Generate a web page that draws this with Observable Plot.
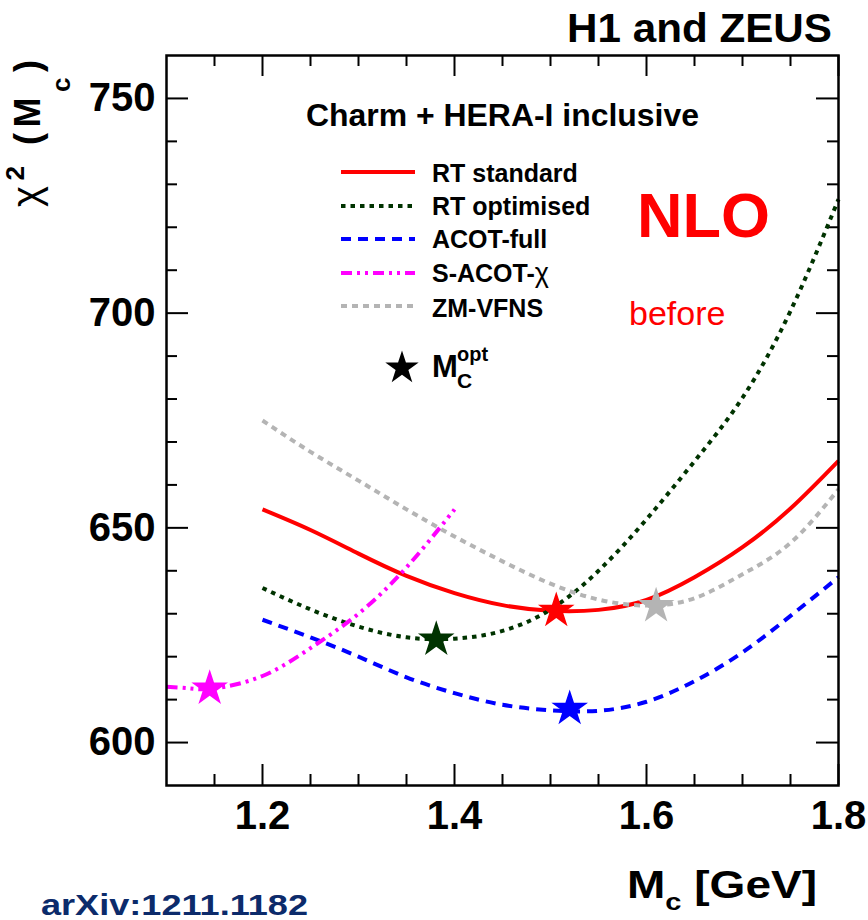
<!DOCTYPE html>
<html>
<head>
<meta charset="utf-8">
<script src="https://cdn.jsdelivr.net/npm/d3@7"></script>
<script src="https://cdn.jsdelivr.net/npm/@observablehq/plot@0.6"></script>
<style>
html, body { margin: 0; padding: 0; background: #fff; }
#chart { width: 868px; height: 920px; overflow: hidden; }
</style>
</head>
<body>
<div id="chart"></div>
<script>
// ---------------- data ----------------
const seriesNames = ["RT standard", "RT optimised", "ACOT-full", "S-ACOT-χ", "ZM-VFNS"];

const mcRTstd  = [1.20, 1.25, 1.30, 1.35, 1.40, 1.45, 1.50, 1.55, 1.60, 1.65, 1.70, 1.75, 1.80];
const chiRTstd = [654.3, 649.5, 644.0, 638.8, 634.8, 632.0, 630.7, 630.9, 633.2, 638.5, 645.5, 654.5, 665.6];

const mcRTopt  = [1.20, 1.25, 1.30, 1.35, 1.40, 1.45, 1.50, 1.55, 1.60, 1.65, 1.70, 1.75, 1.80];
const chiRTopt = [636.0, 631.0, 627.0, 624.5, 624.2, 626.0, 631.0, 640.0, 652.0, 665.5, 680.3, 700.5, 726.5];

const mcACOT   = [1.20, 1.25, 1.30, 1.35, 1.40, 1.45, 1.50, 1.55, 1.60, 1.65, 1.70, 1.75, 1.80];
const chiACOT  = [628.6, 624.5, 620.0, 615.2, 611.5, 608.8, 607.5, 607.4, 609.5, 614.3, 621.0, 629.5, 638.5];

const mcSACOT  = [1.10, 1.125, 1.15, 1.20, 1.25, 1.30, 1.35, 1.40];
const chiSACOT = [613.0, 612.6, 612.6, 615.5, 622.0, 630.0, 640.8, 654.3];

const mcZM     = [1.20, 1.25, 1.30, 1.35, 1.40, 1.45, 1.50, 1.55, 1.60, 1.65, 1.70, 1.75, 1.80];
const chiZM    = [675.0, 667.7, 661.0, 654.3, 648.0, 642.2, 637.0, 633.3, 631.9, 633.6, 639.2, 646.5, 659.0];

// optimal charm mass (stars)
const optMc  = [1.506, 1.381, 1.520, 1.145, 1.610];
const optChi = [630.7, 624.0, 607.9, 612.6, 631.8];

// axis ticks
const xMajor = [1.2, 1.4, 1.6, 1.8];
const xMinor = [1.15, 1.25, 1.3, 1.35, 1.45, 1.5, 1.55, 1.65, 1.7, 1.75];
const yMajor = [600, 650, 700, 750];
const yMinor = [610, 620, 630, 640, 660, 670, 680, 690, 710, 720, 730, 740];

// ---------------- styles ----------------
const seriesStyles = [
  {color: "#ff0000", dash: null},
  {color: "#003300", dash: "4.5,5"},
  {color: "#0000ff", dash: "10,7"},
  {color: "#ff00ff", dash: "11,5,3,5,3,5"},
  {color: "#b4b4b4", dash: "6,5"}
];
const FONT = "'Liberation Sans', Arial, Helvetica, sans-serif";

const W = 868, H = 920, mL = 166, mR = 30, mT = 55, mB = 135;
const frameW = W - mL - mR, frameH = H - mT - mB;

const mcArrays = [mcRTstd, mcRTopt, mcACOT, mcSACOT, mcZM];
const chiArrays = [chiRTstd, chiRTopt, chiACOT, chiSACOT, chiZM];
const curves = seriesNames.map((name, i) =>
  mcArrays[i].map((mc, j) => ({series: name, mc, chi: chiArrays[i][j]})));
const optRows = seriesNames.map((name, i) => ({series: name, mc: optMc[i], chi: optChi[i]}));

const lineMarks = curves.map((rows, i) =>
  Plot.line(rows, {x: "mc", y: "chi", stroke: seriesStyles[i].color, strokeWidth: 4,
    strokeDasharray: seriesStyles[i].dash, strokeLinecap: "butt", strokeLinejoin: "round",
    curve: "natural"}));
const starMarks = optRows.map((row, i) =>
  Plot.dot([row], {x: "mc", y: "chi", symbol: "star", r: 11.5, fill: seriesStyles[i].color, stroke: "none"}));

const plot = Plot.plot({
  width: W, height: H,
  marginLeft: mL, marginRight: mR, marginTop: mT, marginBottom: mB,
  x: {domain: [1.1, 1.8]},
  y: {domain: [590, 760]},
  style: {fontFamily: FONT, background: "white", color: "black"},
  marks: [
    // inward ticks on all four sides
    Plot.tickX(xMajor, {x: d => d, insetTop: frameH - 21, stroke: "black", strokeWidth: 2}),
    Plot.tickX(xMajor, {x: d => d, insetBottom: frameH - 21, stroke: "black", strokeWidth: 2}),
    Plot.tickX(xMinor, {x: d => d, insetTop: frameH - 11, stroke: "black", strokeWidth: 2}),
    Plot.tickX(xMinor, {x: d => d, insetBottom: frameH - 11, stroke: "black", strokeWidth: 2}),
    Plot.tickY(yMajor, {y: d => d, insetRight: frameW - 22, stroke: "black", strokeWidth: 2}),
    Plot.tickY(yMajor, {y: d => d, insetLeft: frameW - 22, stroke: "black", strokeWidth: 2}),
    Plot.tickY(yMinor, {y: d => d, insetRight: frameW - 11, stroke: "black", strokeWidth: 2}),
    Plot.tickY(yMinor, {y: d => d, insetLeft: frameW - 11, stroke: "black", strokeWidth: 2}),
    ...lineMarks,
    ...starMarks,
    Plot.axisX({ticks: xMajor, tickSize: 0, tickPadding: 15, fontSize: 40, fontWeight: "bold",
      tickFormat: d3.format(".1f"), label: null}),
    Plot.axisY({ticks: yMajor, tickSize: 0, tickPadding: 11, fontSize: 40, fontWeight: "bold",
      tickFormat: d3.format("d"), label: null}),
    Plot.frame({stroke: "black", strokeWidth: 2.5})
  ]
});
document.getElementById("chart").appendChild(plot);

// ---------------- annotations ----------------
const svg = d3.select(plot);
const g = svg.append("g").attr("font-family", FONT).attr("fill", "black")
  .attr("text-anchor", "start").style("text-anchor", "start");

// title
g.append("text").attr("x", 567).attr("y", 42).attr("font-size", 40).attr("font-weight", "bold")
  .attr("textLength", 265).attr("lengthAdjust", "spacingAndGlyphs").text("H1 and ZEUS");

// y-axis label  χ² (M_c)
const yl = g.append("text").attr("transform", "translate(40,207) rotate(-90)")
  .attr("font-weight", "bold").attr("textLength", 147).attr("lengthAdjust", "spacing");
yl.append("tspan").attr("font-size", 40).attr("font-weight", "normal").text("χ");
yl.append("tspan").attr("font-size", 26).attr("dy", -16).text("2");
yl.append("tspan").attr("font-size", 36).attr("dy", 16).text(" (M");
yl.append("tspan").attr("font-size", 26).attr("dy", 30).text("c");
yl.append("tspan").attr("font-size", 36).attr("dy", -30).text(")");

// x-axis label  M_c [GeV]
const xl = g.append("text").attr("x", 627).attr("y", 898).attr("font-weight", "bold")
  .attr("textLength", 190).attr("lengthAdjust", "spacingAndGlyphs");
xl.append("tspan").attr("font-size", 38).text("M");
xl.append("tspan").attr("font-size", 24).attr("dy", 12).text("c");
xl.append("tspan").attr("font-size", 38).attr("dy", -12).text(" [GeV]");

// arXiv reference
g.append("text").attr("x", 41).attr("y", 915).attr("font-size", 30).attr("font-weight", "bold")
  .attr("fill", "#0c2b6b").attr("textLength", 267).attr("lengthAdjust", "spacingAndGlyphs")
  .text("arXiv:1211.1182");

// legend header
g.append("text").attr("x", 306).attr("y", 126).attr("font-size", 31).attr("font-weight", "bold")
  .attr("textLength", 393).attr("lengthAdjust", "spacingAndGlyphs").text("Charm + HERA-I inclusive");

// legend entries
const legLineY = [172, 206, 239, 273, 306];
const legTextY = [182, 215, 248, 282, 317];
seriesNames.forEach((name, i) => {
  g.append("line").attr("x1", 341).attr("x2", 415).attr("y1", legLineY[i]).attr("y2", legLineY[i])
    .attr("stroke", seriesStyles[i].color).attr("stroke-width", 4)
    .attr("stroke-dasharray", seriesStyles[i].dash);
  const t = g.append("text").attr("x", 432).attr("y", legTextY[i]).attr("font-size", 25).attr("font-weight", "bold");
  if (name.endsWith("χ")) {
    t.append("tspan").text(name.slice(0, -1));
    t.append("tspan").attr("font-weight", "normal").attr("font-size", 27).text("χ");
  } else {
    t.text(name);
  }
});

// legend star  M_C^opt
g.append("path").attr("transform", "translate(402,368)")
  .attr("d", d3.symbol(d3.symbolStar, Math.PI * 110)()).attr("fill", "black");
g.append("text").attr("x", 432).attr("y", 377).attr("font-size", 31).attr("font-weight", "bold").text("M");
g.append("text").attr("x", 457).attr("y", 361).attr("font-size", 20).attr("font-weight", "bold").text("opt");
g.append("text").attr("x", 457).attr("y", 388).attr("font-size", 21).attr("font-weight", "bold").text("C");

// NLO / before
g.append("text").attr("x", 637).attr("y", 237).attr("font-size", 63).attr("font-weight", "bold")
  .attr("fill", "#ff0000").text("NLO");
g.append("text").attr("x", 629).attr("y", 325).attr("font-size", 34)
  .attr("fill", "#ff0000").text("before");
</script>
</body>
</html>
